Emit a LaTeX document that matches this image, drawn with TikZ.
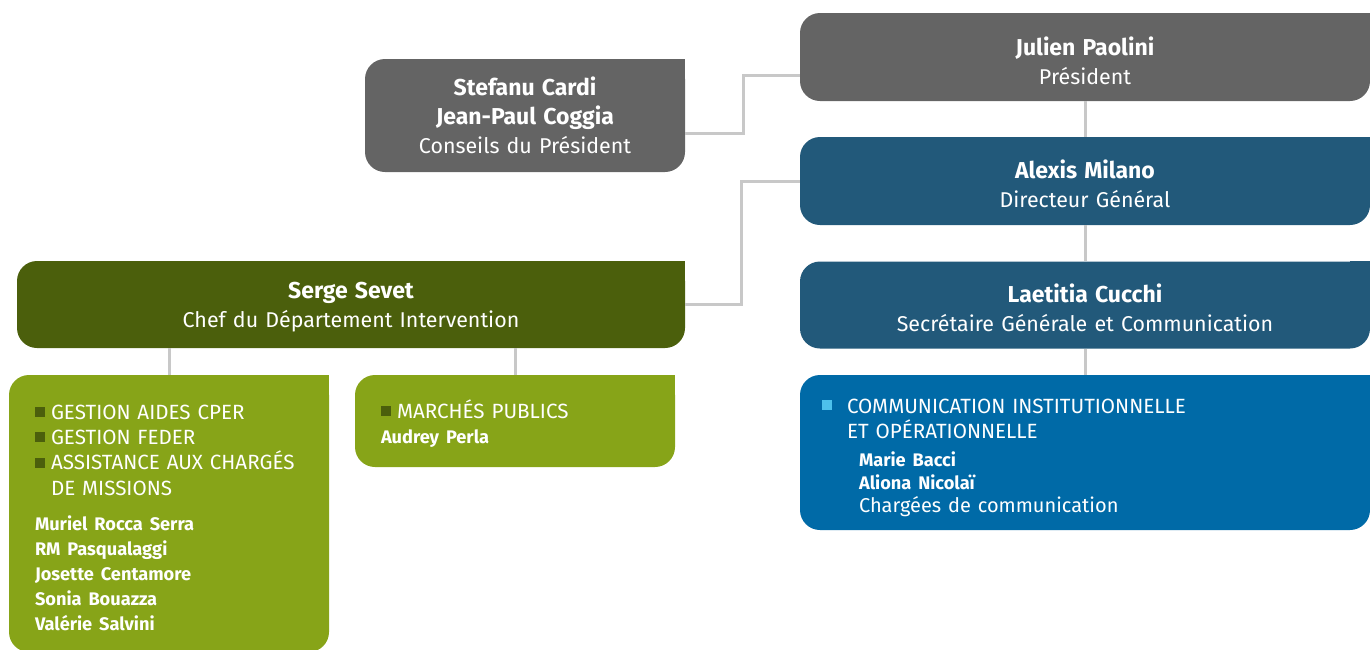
\documentclass[tikz,border=0pt]{standalone}
\usepackage{fontspec}
\setmainfont{Fira Sans}
\usetikzlibrary{positioning}
\definecolor{boxgrey}{HTML}{646464}
\definecolor{boxteal}{HTML}{22597A}
\definecolor{boxolive}{HTML}{4B5F0C}
\definecolor{boxlime}{HTML}{87A418}
\definecolor{boxblue}{HTML}{006AA7}
\definecolor{puceblue}{HTML}{4DC1EC}
\definecolor{linkgrey}{HTML}{C8C8C8}
\newcommand{\puce}[1]{\textcolor{#1}{\rule[2pt]{10pt}{10pt}}\hspace{6pt}}
\newcommand{\nom}[1]{{\fontsize{23}{29}\selectfont\bfseries #1}}

\begin{document}
\begin{tikzpicture}[x=1pt, y=-1pt,
    box/.style={rounded corners=20pt, inner sep=0pt, text=white},
    headbox/.style={box, align=center, text width=#1, minimum width=#1, font=\fontsize{21.4}{29}\selectfont},
    listbox/.style={box, align=left, font=\fontsize{20.6}{25.3}\selectfont},
    link/.style={draw=linkgrey, line width=3pt}]
        \useasboundingbox (0,0) rectangle (1370,649);

        % President (top right)
        \node[headbox=570pt, fill=boxgrey, minimum height=88pt] (pres) at (1085,57)
            {\nom{Julien Paolini}\\Président\par\vspace{-7pt}};

        % Conseils (top left)
        \node[headbox=320pt, fill=boxgrey, minimum height=113pt] (cons) at (525,115.5)
            {\nom{Stefanu Cardi}\\\nom{Jean-Paul Coggia}\\Conseils du Président};

        % Directeur
        \node[headbox=570pt, fill=boxteal, minimum height=88pt] (dg) at (1085,181)
            {\nom{Alexis Milano}\\Directeur Général\par\vspace{-5pt}};

        % Secretaire
        \node[headbox=570pt, fill=boxteal, minimum height=87pt] (sg) at (1085,305)
            {\nom{Laetitia Cucchi}\\Secrétaire Générale et Communication\par\vspace{-5pt}};

        % Intervention
        \node[headbox=668pt, fill=boxolive, minimum height=87pt] (serge) at (351,304.5)
            {\nom{Serge Sevet}\\Chef du Département Intervention\par\vspace{-6pt}};

        % Missions (bottom left)
        \node[listbox, fill=boxlime, minimum width=320pt, minimum height=277pt,
              text width=268pt, inner xsep=26pt] (miss) at (169,513.5)
            {\puce{boxolive}GESTION AIDES CPER\\
             \puce{boxolive}GESTION FEDER\\
             \puce{boxolive}ASSISTANCE AUX CHARGÉS\\
             \hspace*{16pt}DE MISSIONS\par\vspace{10pt}
             \fontsize{18.2}{25}\selectfont\bfseries
             Muriel Rocca Serra\\RM Pasqualaggi\\Josette Centamore\\Sonia Bouazza\\Valérie Salvini\par\vspace{-8pt}};

        % Marches
        \node[listbox, fill=boxlime, minimum width=320pt, minimum height=92pt,
              text width=268pt, inner xsep=26pt] (march) at (515,421)
            {\puce{boxolive}MARCHÉS PUBLICS\par
             \fontsize{18.2}{25}\selectfont\bfseries Audrey Perla\par\vspace{-5pt}};

        % Communication (bottom right)
        \node[listbox, fill=boxblue, minimum width=570pt, minimum height=155pt,
              text width=526pt, inner xsep=22pt] (com) at (1085,452.5)
            {\textcolor{puceblue}{\rule[3pt]{10pt}{10pt}}\hspace{15pt}COMMUNICATION INSTITUTIONNELLE\\
             \hspace*{25pt}ET OPÉRATIONNELLE\par\vspace{5pt}
             \fontsize{18.2}{23}\selectfont
             \hspace*{37pt}{\bfseries Marie Bacci}\\
             \hspace*{37pt}{\bfseries Aliona Nicolaï}\\
             \fontsize{20}{23}\selectfont\hspace*{37pt}Chargées de communication\par\vspace{-11pt}};

        % square top right corners
        \foreach \n/\c in {pres/boxgrey, cons/boxgrey, dg/boxteal, sg/boxteal, serge/boxolive,
                           miss/boxlime, march/boxlime, com/boxblue}
            \fill[\c] (\n.north east) rectangle ([xshift=-20pt, yshift=-20pt]\n.north east);

        % Links
        \draw[link] ([yshift=-18pt]cons.east) -- ++(58,0) |- ([yshift=-18pt]pres.west);
        \draw[link] (dg.west) -- ++(-58,0) |- (serge.east);
        \draw[link] (pres.south) -- (dg.north);
        \draw[link] (dg.south) -- (sg.north);
        \draw[link] (sg.south) -- (com.north);
        \draw[link] (serge.south -| miss.north) -- (miss.north);
        \draw[link] (serge.south -| march.north) -- (march.north);

    \end{tikzpicture}
\end{document}
